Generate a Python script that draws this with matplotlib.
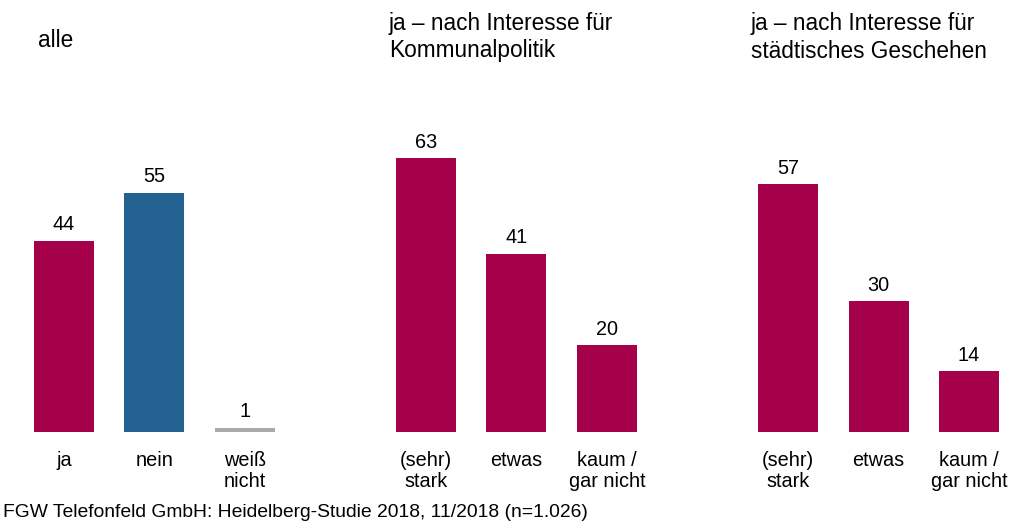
import matplotlib.pyplot as plt

plt.rcParams['font.family'] = ['Liberation Sans', 'DejaVu Sans']

# Werte aus der Grafik
labels_alle = ['ja', 'nein', 'weiß\nnicht']
werte_alle = [44, 55, 1]
labels_interesse = ['(sehr)\nstark', 'etwas', 'kaum /\ngar nicht']
werte_kommunal = [63, 41, 20]
werte_staedtisch = [57, 30, 14]
titel = ['alle', 'ja – nach Interesse für\nKommunalpolitik',
         'ja – nach Interesse für\nstädtisches Geschehen']
quelle = 'FGW Telefonfeld GmbH: Heidelberg-Studie 2018, 11/2018 (n=1.026)'

rot = '#A5004A'
blau = '#236190'
grau = '#AAAAAA'

fig = plt.figure(figsize=(10.11, 5.22), dpi=100)
ax = fig.add_axes([0, 0, 1, 1])
ax.set_xlim(-0.707, 10.464)
ax.set_ylim(-20.69, 99.31)
ax.axis('off')

gruppen = [
    ([0, 1, 2], werte_alle, labels_alle, [rot, blau, grau]),
    ([4, 5, 6], werte_kommunal, labels_interesse, [rot] * 3),
    ([8, 9, 10], werte_staedtisch, labels_interesse, [rot] * 3),
]

for pos, werte, labs, farben in gruppen:
    ax.bar(pos, werte, width=0.663, color=farben)
    for x, w, l in zip(pos, werte, labs):
        ax.text(x, w + 2.4, str(w), ha='center', va='baseline', fontsize=14.3)
        ax.text(x, -4.4, l, ha='center', va='top', fontsize=14.3,
                linespacing=1.12)

# Überschriften
ax.text(38 / 1011, 1 - 29 / 522, titel[0], transform=fig.transFigure,
        ha='left', va='top', fontsize=16.3)
ax.text(389 / 1011, 1 - 12 / 522, titel[1], transform=fig.transFigure,
        ha='left', va='top', fontsize=16.3, linespacing=1.25)
ax.text(751 / 1011, 1 - 12 / 522, titel[2], transform=fig.transFigure,
        ha='left', va='top', fontsize=16.3, linespacing=1.25)

fig.text(3 / 1011, 1 - 504 / 522, quelle, ha='left', va='top', fontsize=13.9)

plt.savefig('out.png', dpi=100)
